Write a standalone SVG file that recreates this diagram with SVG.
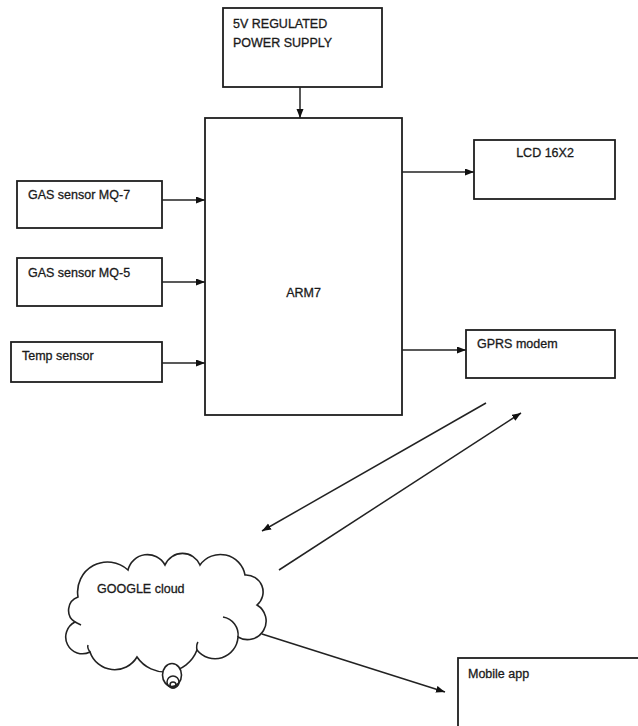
<svg xmlns="http://www.w3.org/2000/svg" width="638" height="726" viewBox="0 0 638 726">
<style>
.box{fill:#fff;stroke:#1e1e1e;stroke-width:1.8}
.t{font-family:"Liberation Sans",Arial,sans-serif;font-size:12.5px;fill:#1a1a1a;stroke:#1a1a1a;stroke-width:0.3}
.c{fill:none;stroke:#222;stroke-width:1.5}
.cl{fill:#fff;stroke:#222;stroke-width:1.6}
</style>
<defs>
<marker id="ah" markerUnits="userSpaceOnUse" markerWidth="10" markerHeight="8" refX="9" refY="3.5" orient="auto">
<path d="M0,0 L9,3.5 L0,7 z" fill="#111"/>
</marker>
</defs>
<rect width="638" height="726" fill="#fff"/>

<g id="power">
<rect class="box" x="223" y="8" width="159" height="79"/>
<text class="t" x="233" y="28">5V REGULATED</text>
<text class="t" x="233" y="47">POWER SUPPLY</text>
</g>

<g id="arm7">
<rect class="box" x="205" y="118" width="197" height="297"/>
<text class="t" x="303.5" y="297" text-anchor="middle">ARM7</text>
</g>

<g id="mq7">
<rect class="box" x="17" y="181" width="145" height="47"/>
<text class="t" x="28" y="199">GAS sensor MQ-7</text>
</g>

<g id="mq5">
<rect class="box" x="17" y="258" width="145" height="48"/>
<text class="t" x="28" y="277">GAS sensor MQ-5</text>
</g>

<g id="temp">
<rect class="box" x="11" y="342" width="151" height="40"/>
<text class="t" x="22" y="360">Temp sensor</text>
</g>

<g id="lcd">
<rect class="box" x="474" y="140" width="141" height="59"/>
<text class="t" x="545" y="157" text-anchor="middle">LCD 16X2</text>
</g>

<g id="gprs">
<rect class="box" x="466" y="330" width="149" height="48"/>
<text class="t" x="477" y="348">GPRS modem</text>
</g>

<g id="cloud">
<path class="cl" d="M78,597 A30,30 0 0 1 128,570 A20,20 0 0 1 165,565 A19,19 0 0 1 200,565 A25,25 0 0 1 245,575 A17,17 0 0 1 257,605 A18,18 0 0 1 238,637 A23,23 0 0 1 197,650 A34,34 0 0 1 137,657 A26,26 0 0 1 90,652 A16,16 0 0 1 75,622 A14,14 0 0 1 78,597 Z"/>
<path class="c" d="M223,617 A18,18 0 0 1 238,637"/>
<path class="c" d="M75,622 L81,625"/>
<path class="c" d="M197,650 Q196,645 198,642"/>
<path class="c" d="M90,652 Q87,648 88,645"/>
<ellipse class="cl" cx="172" cy="675" rx="9.5" ry="11.5"/>
<circle class="c" cx="173" cy="682" r="6"/>
<circle class="c" cx="173" cy="685" r="3"/>
<text class="t" x="97" y="593">GOOGLE cloud</text>
</g>

<g id="mobile">
<rect class="box" x="458" y="658" width="200" height="100"/>
<text class="t" x="468" y="678">Mobile app</text>
</g>

<g id="connectors">
<line class="c" x1="300" y1="87" x2="300" y2="118" marker-end="url(#ah)"/>
<line class="c" x1="162" y1="200" x2="205" y2="200" marker-end="url(#ah)"/>
<line class="c" x1="162" y1="282" x2="205" y2="282" marker-end="url(#ah)"/>
<line class="c" x1="162" y1="363" x2="205" y2="363" marker-end="url(#ah)"/>
<line class="c" x1="402" y1="172" x2="474" y2="172" marker-end="url(#ah)"/>
<line class="c" x1="402" y1="350" x2="466" y2="350" marker-end="url(#ah)"/>
<line class="c" x1="486" y1="403" x2="262" y2="531" marker-end="url(#ah)"/>
<line class="c" x1="279" y1="570" x2="521" y2="413" marker-end="url(#ah)"/>
<line class="c" x1="262" y1="634" x2="445" y2="692" marker-end="url(#ah)"/>
</g>
</svg>
